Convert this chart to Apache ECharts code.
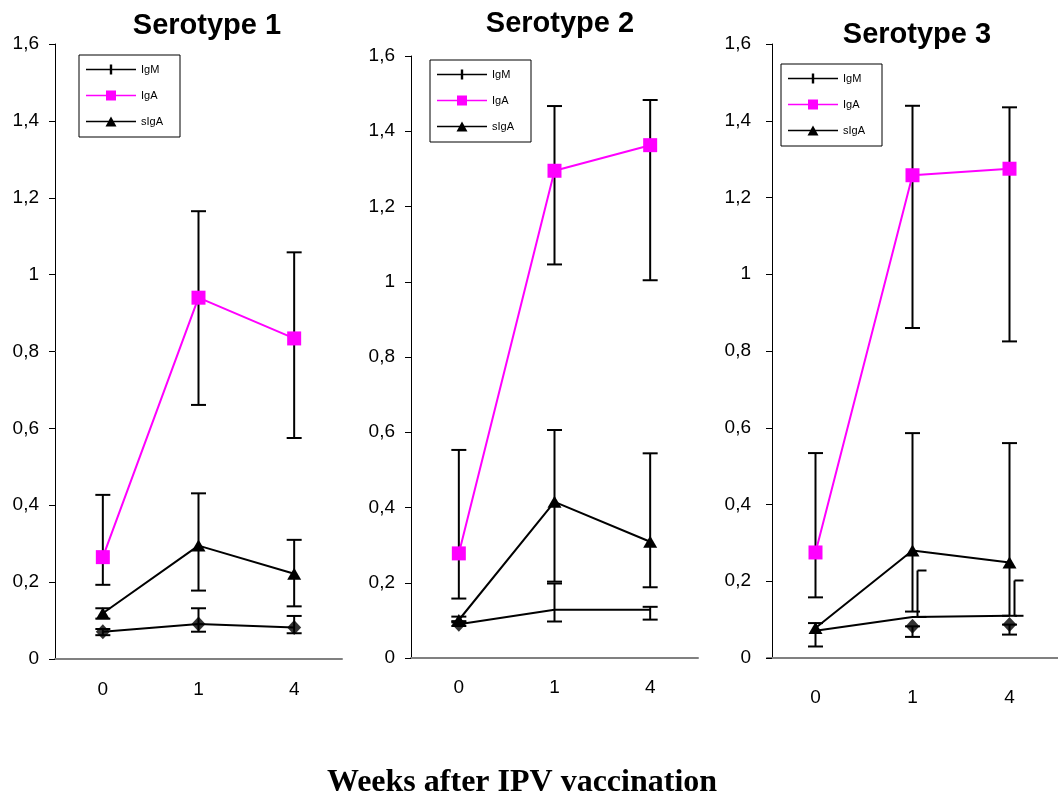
<!DOCTYPE html>
<html>
<head>
<meta charset="utf-8">
<title>Serotype IgM / IgA / sIgA</title>
<script src="https://cdn.jsdelivr.net/npm/echarts@6/dist/echarts.min.js"></script>
<style>
  html, body { margin: 0; padding: 0; background: #fff; }
  #main { width: 1058px; height: 796px; }
</style>
</head>
<body>
<div id="main"></div>
<script type="text/javascript">
// categories (weeks after vaccination)
var weeks = ['0', '1', '4'];

// Serotype 1
var igM1 = [0.071, 0.091, 0.082];
var igMDots1 = [0.071, 0.091, 0.082];
var igA1 = [0.265, 0.94, 0.834];
var sIgA1 = [0.119, 0.295, 0.222];
var igMLow1 = [0.062, 0.071, 0.067];
var igMHigh1 = [0.078, 0.132, 0.112];
var igALow1 = [0.193, 0.661, 0.575];
var igAHigh1 = [0.427, 1.165, 1.058];
var sIgALow1 = [0.105, 0.178, 0.137];
var sIgAHigh1 = [0.132, 0.431, 0.31];

// Serotype 2
var igM2 = [0.09, 0.128, 0.128];
var igMDots2 = [0.09, null, null];
var igA2 = [0.278, 1.295, 1.363];
var sIgA2 = [0.101, 0.415, 0.309];
var igMLow2 = [0.085, 0.097, 0.102];
var igMHigh2 = [0.098, 0.198, 0.136];
var igALow2 = [0.158, 1.046, 1.004];
var igAHigh2 = [0.553, 1.467, 1.483];
var sIgALow2 = [0.095, 0.203, 0.188];
var sIgAHigh2 = [0.11, 0.606, 0.544];

// Serotype 3
var igM3 = [0.071, 0.107, 0.11];
var igMDots3 = [null, 0.0825, 0.087];
var igA3 = [0.275, 1.258, 1.275];
var sIgA3 = [0.078, 0.28, 0.249];
var igMLow3 = [null, 0.107, 0.11];     // these bars sit a little right of the point
var igMHigh3 = [null, 0.228, 0.202];
var dotLow3 = [null, 0.055, 0.061];
var dotHigh3 = [null, 0.0825, 0.087];
var igALow3 = [0.158, 0.86, 0.825];
var igAHigh3 = [0.534, 1.439, 1.435];
var sIgALow3 = [0.03, 0.121, 0.11];
var sIgAHigh3 = [0.091, 0.586, 0.56];

var titles = ['Serotype 1', 'Serotype 2', 'Serotype 3'];
var xTitle = 'Weeks after IPV vaccination';

var panels = [
    { igM: igM1, dots: igMDots1, igA: igA1, sIgA: sIgA1,
      err: [[igALow1, igAHigh1, 0], [sIgALow1, sIgAHigh1, 0], [igMLow1, igMHigh1, 0]] },
    { igM: igM2, dots: igMDots2, igA: igA2, sIgA: sIgA2,
      err: [[igALow2, igAHigh2, 0], [sIgALow2, sIgAHigh2, 0], [igMLow2, igMHigh2, 0]] },
    { igM: igM3, dots: igMDots3, igA: igA3, sIgA: sIgA3,
      err: [[igALow3, igAHigh3, 0], [sIgALow3, sIgAHigh3, 0], [igMLow3, igMHigh3, 5], [dotLow3, dotHigh3, 0]] }
];

// layout of the three plots
var grids = [
    { left: 55, top: 44, width: 287, height: 615 },
    { left: 411, top: 56, width: 287, height: 602 },
    { left: 767, top: 44, width: 292, height: 614 }
];
var yOffset = [0, 0, -5];
var xMargin = [21, 20, 30];
var yMargin = [16, 16, 21];
var legendPos = [[79, 55], [430, 60], [781, 64]];
var titlePos = [[207, 26], [560, 23.5], [917, 34.5]];

var FONT = 'Liberation Sans';

function bars(low, high) {
    var out = [];
    low.forEach(function (l, i) {
        if (l != null) out.push([i, l, high[i]]);
    });
    return out;
}

function errorBars(shift) {
    return function (params, api) {
        var lo = api.coord([api.value(0), api.value(1)]);
        var hi = api.coord([api.value(0), api.value(2)]);
        var x = lo[0] + shift;
        var a = shift ? x : x - 7.5;
        var b = shift ? x + 9 : x + 7.5;
        var st = { stroke: '#000', lineWidth: 2 };
        return {
            type: 'group',
            children: [
                { type: 'line', shape: { x1: x, y1: lo[1], x2: x, y2: hi[1] }, style: st },
                { type: 'line', shape: { x1: a, y1: hi[1], x2: b, y2: hi[1] }, style: st },
                { type: 'line', shape: { x1: a, y1: lo[1], x2: b, y2: lo[1] }, style: st }
            ]
        };
    };
}

function nulls(arr) {
    return arr.map(function (v) { return v == null ? '-' : v; });
}

var iconIgM = 'path://M0,4.2 H23.8 V0 H26.2 V4.2 H50 V5.8 H26.2 V10 H23.8 V5.8 H0 Z';
var iconIgA = 'path://M0,4.3 H20 V0 H30 V4.3 H50 V5.7 H30 V10 H20 V5.7 H0 Z';
var iconSIgA = 'path://M0,4.3 H22.6 L25,0 L27.4,4.3 H50 V5.7 H28.1 L30.5,10 H19.5 L21.9,5.7 H0 Z';

var option = {
    backgroundColor: '#fff',
    animation: false,
    grid: [],
    xAxis: [],
    yAxis: [],
    legend: [],
    series: [],
    graphic: []
};

panels.forEach(function (p, i) {
    option.grid.push(grids[i]);
    option.xAxis.push({
        type: 'category',
        gridIndex: i,
        data: weeks,
        boundaryGap: true,
        axisLine: { lineStyle: { color: '#808080', width: 2 } },
        axisTick: { length: 5, lineStyle: { color: '#000', width: 1 } },
        axisLabel: { margin: xMargin[i], fontSize: 19, color: '#000', fontFamily: FONT },
        splitLine: { show: false }
    });
    option.yAxis.push({
        type: 'value',
        gridIndex: i,
        min: 0,
        max: 1.6,
        interval: 0.2,
        offset: yOffset[i],
        axisLine: { show: true, lineStyle: { color: '#000', width: 1 } },
        axisTick: { show: true, length: 6, lineStyle: { color: '#000' } },
        axisLabel: {
            margin: yMargin[i], fontSize: 19, color: '#000', fontFamily: FONT,
            formatter: function (v) { return String(Math.round(v * 10) / 10).replace('.', ','); }
        },
        splitLine: { show: false }
    });
    option.legend.push({
        left: legendPos[i][0],
        top: legendPos[i][1],
        orient: 'vertical',
        selectedMode: false,
        itemWidth: 50,
        itemHeight: 10,
        itemGap: 15,
        padding: [9, 17, 10, 7],
        borderColor: '#000',
        borderWidth: 1,
        textStyle: { fontSize: 11, color: '#000', fontFamily: FONT },
        data: [
            { name: 'IgM', icon: iconIgM, itemStyle: { borderWidth: 0 } },
            { name: 'IgA', icon: iconIgA, itemStyle: { borderWidth: 0 } },
            { name: 'sIgA', icon: iconSIgA, itemStyle: { borderWidth: 0 } }
        ]
    });

    p.err.forEach(function (e, k) {
        option.series.push({
            type: 'custom',
            name: 'err' + i + '_' + k,
            xAxisIndex: i,
            yAxisIndex: i,
            z: 1,
            renderItem: errorBars(e[2]),
            encode: { x: 0, y: [1, 2] },
            data: bars(e[0], e[1])
        });
    });

    option.series.push({
        type: 'line',
        name: 'IgM',
        xAxisIndex: i,
        yAxisIndex: i,
        z: 3,
        symbol: 'none',
        color: '#000',
        lineStyle: { color: '#000', width: 2 },
        data: p.igM
    });
    option.series.push({
        type: 'scatter',
        name: 'IgM points',
        xAxisIndex: i,
        yAxisIndex: i,
        z: 4,
        symbol: 'diamond',
        symbolSize: [14, 15],
        itemStyle: { color: '#000' },
        data: nulls(p.dots)
    });
    option.series.push({
        type: 'line',
        name: 'IgA',
        xAxisIndex: i,
        yAxisIndex: i,
        z: 3,
        symbol: 'rect',
        symbolSize: 14,
        color: '#ff00ff',
        itemStyle: { color: '#ff00ff', borderWidth: 0 },
        lineStyle: { color: '#ff00ff', width: 2 },
        data: p.igA
    });
    option.series.push({
        type: 'line',
        name: 'sIgA',
        xAxisIndex: i,
        yAxisIndex: i,
        z: 3,
        symbol: 'triangle',
        symbolSize: [14, 12],
        color: '#000',
        itemStyle: { color: '#000', borderWidth: 0 },
        lineStyle: { color: '#000', width: 2 },
        data: p.sIgA
    });

    option.graphic.push({
        type: 'text',
        x: titlePos[i][0],
        y: titlePos[i][1],
        style: {
            text: titles[i],
            fill: '#000',
            fontSize: 29,
            fontWeight: 'bold',
            fontFamily: FONT,
            align: 'center',
            verticalAlign: 'middle'
        }
    });
});

option.graphic.push({
    type: 'text',
    x: 522,
    y: 783,
    style: {
        text: xTitle,
        fill: '#000',
        fontSize: 32,
        fontWeight: 'bold',
        fontFamily: 'Liberation Serif',
        align: 'center',
        verticalAlign: 'middle'
    }
});

var myChart = echarts.init(document.getElementById('main'));
myChart.setOption(option);
</script>
</body>
</html>
